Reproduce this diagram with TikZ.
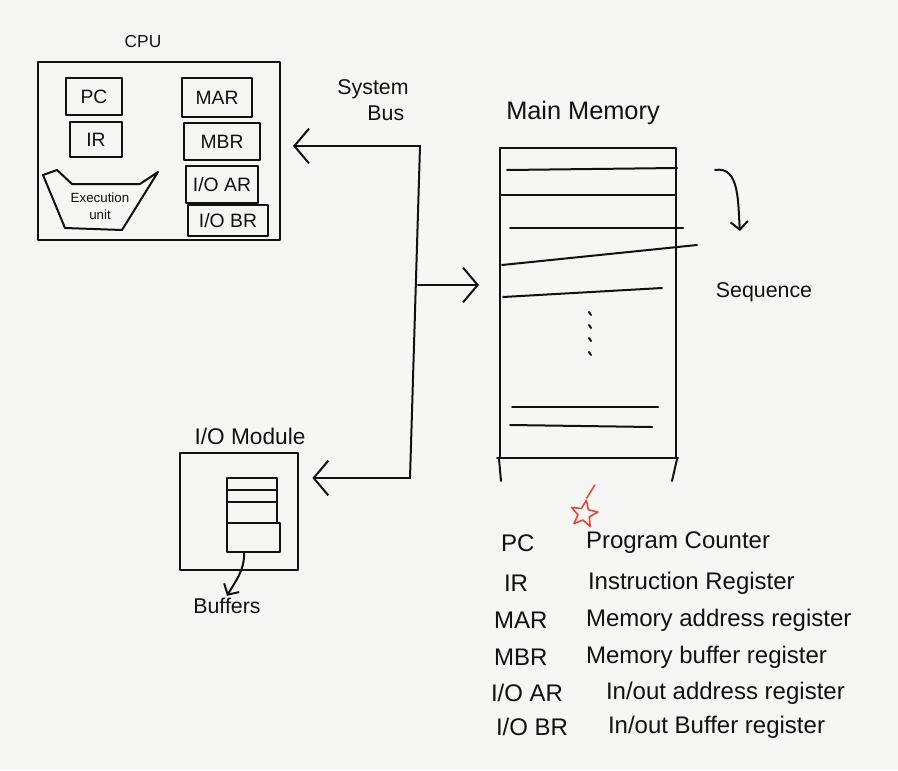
\documentclass[tikz,border=0pt]{standalone}
\usepackage{fontspec}
\setmainfont{Liberation Sans}
\usetikzlibrary{arrows.meta,shapes.geometric,calc}
\definecolor{paper}{HTML}{F6F6F4}
\definecolor{ink}{HTML}{111111}
\definecolor{starred}{HTML}{E8463A}
\begin{document}
\begin{tikzpicture}[x=0.75pt,y=-0.75pt,
  line width=1.5pt, line cap=round, line join=round, draw=ink, text=ink,
  box/.style={draw, line width=1.5pt, rectangle, inner sep=0pt},
  reg/.style={box, font=\fontsize{14.5}{16}\selectfont},
  lbl/.style={font=\fontsize{15}{18}\selectfont, inner sep=1pt},
  leg/.style={font=\fontsize{18}{21}\selectfont, anchor=west, inner sep=0pt},
  arrowtip/.style={-{Straight Barb[length=11pt,width=26pt,line width=1.5pt]}},
  smalltip/.style={-{Straight Barb[length=6pt,width=13pt,line width=1.5pt]}}]
\fill[paper] (0,0) rectangle (898,770);
\useasboundingbox (0,0) rectangle (898,770);

% ---------- CPU ----------
\node[lbl, font=\fontsize{13}{15}\selectfont] (cpuLbl) at (143,42) {CPU};
\node[box, minimum width=181.5pt, minimum height=133.5pt] (cpu) at (159,151) {};
\node[reg, minimum width=42pt, minimum height=27.75pt] (pc) at (94,96.5) {PC};
\node[reg, minimum width=39pt, minimum height=26.25pt] (ir) at (96,139.5) {IR};
\node[reg, minimum width=52.5pt, minimum height=29.25pt] (mar) at (217,97.5) {MAR};
\node[reg, minimum width=57pt, minimum height=27.75pt] (mbr) at (222,141.5) {MBR};
\node[reg, minimum width=54pt, minimum height=27.75pt] (ioar) at (222,184.5) {I/O AR};
\node[reg, minimum width=60pt, minimum height=23.25pt] (iobr) at (228,220.5) {I/O BR};
\draw (43,175) -- (57,170) -- (72,184) -- (140,184) -- (158,172) -- (122,230) -- (65,228) -- cycle;
\node[align=center, inner sep=0pt, font=\fontsize{10}{12.5}\selectfont] (exec) at (100,206) {Execution\\unit};

% ---------- I/O module ----------
\node[lbl, font=\fontsize{17}{20}\selectfont] (ioLbl) at (250,436) {I/O Module};
\node[box, minimum width=88.5pt, minimum height=87.75pt] (io) at (239,511.5) {};
\node[box, minimum width=37.5pt, minimum height=33.75pt] (bufTop) at (252,500.5) {};
\node[box, minimum width=39.75pt, minimum height=21.75pt] (bufBot) at (253.5,537.5) {};
\draw (227,490) -- (277,490);
\draw (227,502) -- (277,502);
\node[lbl, font=\fontsize{16}{19}\selectfont] (bufLbl) at (227,606) {Buffers};
\draw[smalltip] ([xshift=-7pt]bufBot.south) to[out=-90, in=60] (bufLbl.north);

% ---------- Main memory ----------
\node[lbl, font=\fontsize{19}{22}\selectfont] (memLbl) at (583,113) {Main Memory};
\node[box, minimum width=132pt, minimum height=232.5pt] (mem) at (588,303) {};
\draw (mem.south west) -- ++(2,22);
\draw (mem.south east) -- ++(-5,22);
\draw (507,170) -- (677,168);
\draw (501,195) -- (675,195);
\draw (510,228) -- (683,228);
\draw (502,265) -- (697,245);
\draw (503,297) -- (662,288);
\draw (512,407) -- (658,407);
\draw (510,425) -- (652,427);
\draw (497,458) -- (678,458);
\foreach \yy in {312,325,338,352} \draw (589,\yy) -- (591,\yy+3);

% ---------- System bus ----------
\node[lbl, align=center, font=\fontsize{16}{19}\selectfont] (busLbl) at (373,100) {System\\\hspace*{1.2em}Bus};
\coordinate (bTop) at (420,146);
\coordinate (bMid) at (418,285);
\coordinate (bBot) at (410,478);
\draw[arrowtip, shorten >=9pt] (bTop) -- (bTop -| cpu.east);
\draw (bTop) -- (bBot);
\draw[arrowtip, shorten >=10pt] (bBot) -- (bBot -| io.east);
\draw[arrowtip, shorten >=15pt] (bMid) -- (bMid -| mem.west);

% ---------- Sequence ----------
\coordinate (seqA) at (715,170);
\coordinate (seqB) at (740,231);
\draw[smalltip] (seqA) to[out=10, in=95] (seqB);
\node[lbl, font=\fontsize{16}{19}\selectfont] (seqLbl) at (764,292) {Sequence};

% ---------- Legend ----------
\node[star, star points=5, star point ratio=2.3, draw=starred, line width=1.2pt,
      minimum size=21pt, inner sep=0pt, rotate=-10] (star) at (584,514) {};
\draw[starred, line width=1.2pt] (star.outer point 1) -- ++(8,-13);

\node[leg] (k1) at (500,543) {PC};
\node[leg] (d1) at (585,543) {Program Counter};
\node[leg] (k2) at (503,583) {IR};
\node[leg] (d2) at (587,583) {Instruction Register};
\node[leg] (k3) at (493,620) {MAR};
\node[leg] (d3) at (585,620) {Memory address register};
\node[leg] (k4) at (493,657) {MBR};
\node[leg] (d4) at (585,657) {Memory buffer register};
\node[leg] (k5) at (490,693) {I/O AR};
\node[leg] (d5) at (605,693) {In/out address register};
\node[leg] (k6) at (495,727) {I/O BR};
\node[leg] (d6) at (607,727) {In/out Buffer register};
\end{tikzpicture}
\end{document}
